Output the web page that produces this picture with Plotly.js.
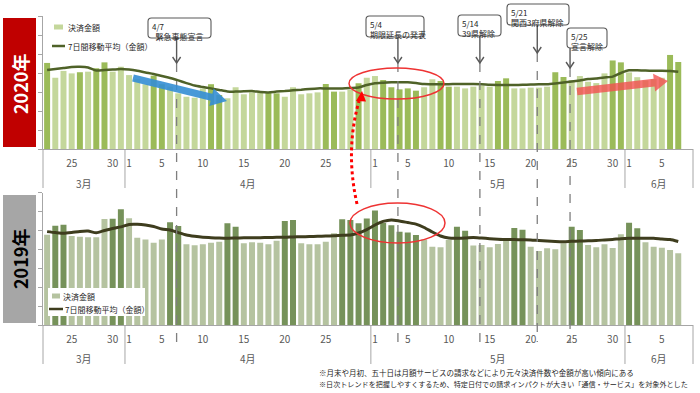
<!DOCTYPE html>
<html>
<head>
<meta charset="utf-8">
<script src="https://cdn.plot.ly/plotly-3.0.1.min.js"></script>
<style>
  html, body { margin: 0; padding: 0; background: #fff; }
  #chart { width: 700px; height: 393px; }
</style>
</head>
<body>
<div id="chart"></div>
<script>
// ---------- data ----------
const dates = [
  '3/22','3/23','3/24','3/25','3/26','3/27','3/28','3/29','3/30','3/31',
  '4/1','4/2','4/3','4/4','4/5','4/6','4/7','4/8','4/9','4/10',
  '4/11','4/12','4/13','4/14','4/15','4/16','4/17','4/18','4/19','4/20',
  '4/21','4/22','4/23','4/24','4/25','4/26','4/27','4/28','4/29','4/30',
  '5/1','5/2','5/3','5/4','5/5','5/6','5/7','5/8','5/9','5/10',
  '5/11','5/12','5/13','5/14','5/15','5/16','5/17','5/18','5/19','5/20',
  '5/21','5/22','5/23','5/24','5/25','5/26','5/27','5/28','5/29','5/30',
  '5/31','6/1','6/2','6/3','6/4','6/5','6/6','6/7'
];

// 2020 daily settlement amount (index units) and 7-day moving average
const amount2020 = [
  45.3,37.5,41.1,39.8,40.4,40.7,42.5,45.6,40.7,43.3,
  38.9,36.8,34.1,38.6,34.1,32.8,29.3,27.5,27.0,31.9,
  34.1,28.4,26.7,32.5,28.8,29.8,29.8,29.8,29.3,27.5,
  32.5,28.8,29.3,29.8,34.2,30.2,30.2,31.1,34.6,37.5,
  38.4,36.3,32.5,31.4,31.9,30.7,32.5,36.7,35.8,32.8,
  32.8,31.9,32.8,33.3,32.8,35.8,37.2,31.9,31.9,32.3,
  32.3,32.8,40.4,37.9,36.3,38.4,35.4,34.7,39.8,46.6,
  45.6,40.3,37.8,36.1,36.8,37.5,49.5,45.8
];
const ma2020 = [
  41.6,42.1,42.6,43.2,43.3,42.9,41.3,41.6,41.8,42.1,
  41.8,41.2,40.3,39.5,38.4,37.4,36.1,34.7,33.4,32.6,
  31.9,31.1,30.3,30.2,30.4,30.5,30.0,29.8,30.2,30.5,
  30.9,31.2,31.6,31.9,31.9,31.9,31.9,32.1,32.4,33.7,
  34.6,34.9,35.1,35.1,35.1,34.7,34.2,34.1,34.1,34.1,
  34.2,34.2,34.2,34.1,33.8,33.7,33.7,33.7,33.8,33.9,
  34.1,34.1,34.5,35.0,35.5,36.1,36.8,37.1,37.6,38.1,
  40.0,41.4,41.4,41.3,41.2,41.2,41.1,40.7
];
// 1 = weekend / holiday (darker bar)
const holiday2020 = [
  1,0,0,0,1,0,1,1,0,0,
  0,0,0,1,1,0,0,0,0,0,
  1,1,0,0,0,0,0,1,1,0,
  0,0,0,0,1,1,0,0,1,0,
  0,1,1,1,1,1,0,0,1,1,
  0,0,0,0,0,1,1,0,0,0,
  0,0,1,1,0,0,0,0,0,1,
  1,0,0,0,0,0,1,1
];

// 2019 same calendar dates
const amount2019 = [
  47.8,52.5,53.1,47.1,46.7,46.4,46.4,56.1,56.2,61.2,
  56.5,46.2,45.3,43.5,45.3,54.3,52.4,42.7,42.2,42.7,
  43.5,44.1,53.8,52.0,43.2,43.8,43.5,42.7,44.6,55.0,
  55.6,43.2,42.7,42.7,44.1,48.5,55.9,55.6,53.8,56.3,
  60.6,54.0,52.8,49.4,49.0,47.6,45.3,41.4,41.1,45.0,
  52.0,49.9,42.0,42.3,41.1,42.9,44.4,51.3,50.4,41.4,
  39.2,40.6,40.1,43.2,52.0,50.3,42.3,41.1,42.7,40.7,
  48.0,54.1,51.2,43.8,41.4,40.9,39.7,37.9
];
const ma2019 = [
  49.4,48.9,48.5,48.9,49.5,49.7,48.8,50.0,51.1,51.9,
  53.2,53.3,52.9,52.1,50.8,50.3,48.9,47.6,46.9,46.4,
  46.2,46.0,45.9,46.0,46.1,46.2,46.2,46.3,46.4,46.4,
  46.6,46.7,46.8,46.9,47.1,47.2,47.5,47.6,48.7,50.5,
  52.9,54.8,55.6,55.0,54.2,53.4,51.6,49.2,47.1,46.0,
  45.9,46.0,46.3,46.0,45.7,45.4,45.2,45.2,45.1,45.0,
  44.7,44.4,44.2,44.1,44.3,44.4,44.6,44.7,45.0,45.3,
  45.7,45.9,45.9,45.9,45.9,45.5,45.2,44.2
];
const holiday2019 = [
  0,1,1,0,0,0,0,0,1,1,
  0,0,0,0,0,1,1,0,0,0,
  0,0,1,1,0,0,0,0,0,1,
  1,0,0,0,0,0,1,1,1,1,
  1,1,1,1,1,1,0,0,0,0,
  1,1,0,0,0,0,0,1,1,0,
  0,0,0,0,1,1,0,0,0,0,
  0,1,1,0,0,0,0,0
];

const tickDates = ['3/25','3/30','4/1','4/5','4/10','4/15','4/20','4/25','5/1','5/5','5/10','5/15','5/20','5/25','5/30','6/1','6/5'];
const tickText  = ['25','30','1','5','10','15','20','25','1','5','10','15','20','25','30','1','5'];
const monthNames = ['3月','4月','5月','6月'];
const monthStart = ['3/22','4/1','5/1','6/1'];

const seriesNames = ['決済金額', '7日間移動平均（金額）'];
const yearLabels = ['2020年', '2019年'];

const events = [
  {date:'4/7',  text:'4/7<br>&nbsp;&nbsp;緊急事態宣言', box:[148,18,211,38], tip:63},
  {date:'5/4',  text:'5/4<br>期限延長の発表',          box:[366,16,424,37], tip:63},
  {date:'5/14', text:'5/14<br>39県解除',               box:[458,15,501,36], tip:63},
  {date:'5/21', text:'5/21<br>関西3府県解除',          box:[507,4,569,25],  tip:53},
  {date:'5/25', text:'5/25<br>宣言解除',               box:[567,28,607,48], tip:68}
];

const notes = [
  '※月末や月初、五十日は月額サービスの請求などにより元々決済件数や金額が高い傾向にある',
  '※日次トレンドを把握しやすくするため、特定日付での請求インパクトが大きい「通信・サービス」を対象外とした'
];

// ---------- geometry helpers ----------
const W = 700, H = 393;
const px = x => x / W;
const py = y => 1 - y / H;
const PLOT_L = 43, PLOT_R = 693;
const X_RANGE = [-0.5, 78.8];
const catPx = i => PLOT_L + (i - X_RANGE[0]) / (X_RANGE[1] - X_RANGE[0]) * (PLOT_R - PLOT_L);
const P = (x, y) => px(x).toFixed(5) + ',' + py(y).toFixed(5);
function rrect(x0, y0, x1, y1, r) {
  return `M${P(x0 + r, y0)} L${P(x1 - r, y0)} Q${P(x1, y0)} ${P(x1, y0 + r)} L${P(x1, y1 - r)} Q${P(x1, y1)} ${P(x1 - r, y1)} L${P(x0 + r, y1)} Q${P(x0, y1)} ${P(x0, y1 - r)} L${P(x0, y0 + r)} Q${P(x0, y0)} ${P(x0 + r, y0)} Z`;
}
function arrowPath(x0, y0, x1, y1, bw, hw, hl) {
  const dx = x1 - x0, dy = y1 - y0, L = Math.hypot(dx, dy);
  const ux = dx / L, uy = dy / L, nx = -uy, ny = ux;
  const bx = x1 - ux * hl, by = y1 - uy * hl;
  const pts = [
    [x0 + nx * bw, y0 + ny * bw], [bx + nx * bw, by + ny * bw], [bx + nx * hw, by + ny * hw],
    [x1, y1], [bx - nx * hw, by - ny * hw], [bx - nx * bw, by - ny * bw], [x0 - nx * bw, y0 - ny * bw]
  ];
  return 'M' + pts.map(p => P(p[0], p[1])).join(' L') + ' Z';
}

// ---------- colors ----------
const C20L = '#c4d79b', C20D = '#9bbb59', C20LINE = '#4f6228';
const C19L = '#b5c3a0', C19D = '#76925a', C19LINE = '#3e3d1e';
const GRID = '#a6a6a6';
const TXT = '#595959';
const FONT = '"Noto Sans CJK JP", "Noto Sans", sans-serif';

// ---------- traces ----------
const traces = [
  {type:'bar', x:dates, y:amount2020, name:seriesNames[0], xaxis:'x', yaxis:'y',
   marker:{color: holiday2020.map(h => h ? C20D : C20L)}, hoverinfo:'skip'},
  {type:'scatter', mode:'lines', x:dates, y:ma2020, name:seriesNames[1], xaxis:'x', yaxis:'y',
   line:{color:C20LINE, width:2.5, shape:'spline', smoothing:0.6}, hoverinfo:'skip'},
  {type:'bar', x:dates, y:amount2019, name:seriesNames[0], xaxis:'x2', yaxis:'y2',
   marker:{color: holiday2019.map(h => h ? C19D : C19L)}, hoverinfo:'skip'},
  {type:'scatter', mode:'lines', x:dates, y:ma2019, name:seriesNames[1], xaxis:'x2', yaxis:'y2',
   line:{color:C19LINE, width:3, shape:'spline', smoothing:0.6}, hoverinfo:'skip'}
];

// ---------- axes ----------
function xAxis(anchor) {
  return {
    domain:[px(PLOT_L), px(PLOT_R)], anchor:anchor, type:'category',
    categoryorder:'array', categoryarray:dates, range:X_RANGE,
    showline:true, linecolor:GRID, linewidth:1, ticks:'outside', ticklen:5, tickcolor:'rgba(0,0,0,0)',
    tickvals:tickDates, ticktext:tickText, tickfont:{size:10, color:TXT, family:FONT},
    showgrid:false, zeroline:false, fixedrange:true
  };
}
function yAxis(anchor, top, bottom) {
  return {
    domain:[py(bottom), py(top)], anchor:anchor, range:[0, 70], dtick:10,
    showline:true, linecolor:GRID, linewidth:1, ticks:'outside', ticklen:4, tickcolor:GRID,
    showticklabels:false, showgrid:false, zeroline:false, fixedrange:true
  };
}

// ---------- shapes ----------
const shapes = [];
const annotations = [];
const line = (x0, y0, x1, y1, color, width, dash, xref) => ({
  type:'line', xref:xref || 'paper', yref:'paper',
  x0:x0, x1:x1, y0:py(y0), y1:py(y1), line:{color:color, width:width, dash:dash || 'solid'}
});
const label = (x, y, text, size, color, anchor, extra) => Object.assign({
  xref:'paper', yref:'paper', x:px(x), y:py(y), text:text, showarrow:false,
  xanchor:anchor || 'left', yanchor:'middle', font:{size:size, color:color, family:FONT}
}, extra || {});

// category boxes under each chart
[[149, 188, 183], [325, 364, 358]].forEach(([base, bot, monY]) => {
  shapes.push(line(px(PLOT_L), base, px(PLOT_L), bot, GRID, 1));
  shapes.push(line(px(PLOT_R), base, px(PLOT_R), bot, GRID, 1));
  monthStart.forEach((d, m) => {
    const s = dates.indexOf(d);
    if (m > 0) shapes.push(line(s - 0.5, base, s - 0.5, bot, GRID, 1, 'solid', 'x'));
    const e = m < monthStart.length - 1 ? dates.indexOf(monthStart[m + 1]) - 0.5 : X_RANGE[1];
    const c = ((s - 0.5) + e) / 2;
    annotations.push({xref:'x', yref:'paper', x:c, y:py(monY), text:monthNames[m], showarrow:false,
      font:{size:10, color:TXT, family:FONT}, xanchor:'center', yanchor:'middle'});
  });
});

// legends (drawn manually to match the original layout)
// top (2020)
shapes.push({type:'rect', xref:'paper', yref:'paper', x0:px(54), x1:px(63), y0:py(29.5), y1:py(24.5),
  fillcolor:C20L, line:{width:0}});
annotations.push(label(66, 27, seriesNames[0], 8, '#262626'));
shapes.push(line(px(52), 46, px(65), 46, C20LINE, 2.5));
annotations.push(label(66, 46, seriesNames[1], 8, '#262626'));
// bottom (2019)
shapes.push({type:'rect', xref:'paper', yref:'paper', x0:px(48), x1:px(145), y0:py(316), y1:py(288),
  fillcolor:'#ffffff', line:{width:0}});
shapes.push({type:'rect', xref:'paper', yref:'paper', x0:px(52), x1:px(60), y0:py(298.5), y1:py(293.5),
  fillcolor:C19L, line:{width:0}});
annotations.push(label(61, 296, seriesNames[0], 8, '#262626'));
shapes.push(line(px(49), 309, px(63), 309, C19LINE, 2.5));
annotations.push(label(63, 309, seriesNames[1], 8, '#262626'));

// event markers
events.forEach(ev => {
  const idx = dates.indexOf(ev.date) - 0.2;
  const xp = catPx(idx);
  const [bx0, by0, bx1, by1] = ev.box;
  shapes.push(line(idx, ev.tip, idx, 342, '#7f7f7f', 1.3, 'dash', 'x'));
  shapes.push(line(px(xp), by1, px(xp), ev.tip, '#595959', 1.4));
  shapes.push({type:'path', xref:'paper', yref:'paper',
    path:`M${P(xp - 4, ev.tip - 6)} L${P(xp, ev.tip)} L${P(xp + 4, ev.tip - 6)}`,
    line:{color:'#595959', width:1.4}});
  shapes.push({type:'path', xref:'paper', yref:'paper', path:rrect(bx0, by0, bx1, by1, 3.5),
    fillcolor:'#ffffff', line:{color:'#595959', width:1.1}});
  annotations.push({xref:'paper', yref:'paper', x:px(bx0 + 1.5), y:py(by0 + 1), text:ev.text,
    showarrow:false, xanchor:'left', yanchor:'top', align:'left',
    font:{size:8, color:'#262626', family:FONT}});
});

// red ellipses
shapes.push({type:'circle', xref:'paper', yref:'paper', x0:px(349), x1:px(444), y0:py(99), y1:py(68),
  line:{color:'#ee3333', width:1.5}});
shapes.push({type:'circle', xref:'paper', yref:'paper', x0:px(350), x1:px(445), y0:py(243), y1:py(203),
  line:{color:'#ee3333', width:1.5}});

// red dotted connector
shapes.push({type:'path', xref:'paper', yref:'paper',
  path:`M${P(357, 204)} Q${P(345, 150)} ${P(359, 101)}`,
  line:{color:'#ff0000', width:3, dash:'dot'}});
shapes.push({type:'path', xref:'paper', yref:'paper',
  path:`M${P(362, 91)} L${P(356, 101)} L${P(366, 101.5)} Z`,
  fillcolor:'#ff0000', line:{width:0}});

// blue & red trend arrows
shapes.push({type:'path', xref:'paper', yref:'paper', path:arrowPath(133, 78, 227, 101, 3.6, 9, 16),
  fillcolor:'rgba(52,142,212,0.9)', line:{width:0}});
shapes.push({type:'path', xref:'paper', yref:'paper', path:arrowPath(577, 91.5, 668, 81, 3.8, 9, 14),
  fillcolor:'rgba(244,78,78,0.78)', line:{width:0}});

// year badges
shapes.push({type:'rect', xref:'paper', yref:'paper', x0:px(3), x1:px(36), y0:py(147), y1:py(18),
  fillcolor:'#c00000', line:{width:0}, layer:'below'});
shapes.push({type:'rect', xref:'paper', yref:'paper', x0:px(3), x1:px(36), y0:py(323), y1:py(195),
  fillcolor:'#a6a6a6', line:{width:0}, layer:'below'});
annotations.push(label(20, 84, '<b>' + yearLabels[0] + '</b>', 18, '#ffffff', 'center', {textangle:-90}));
annotations.push(label(20, 259, '<b>' + yearLabels[1] + '</b>', 18, '#000000', 'center', {textangle:-90}));

// footnotes
annotations.push(label(317, 372, notes[0], 7.5, '#262626'));
annotations.push(label(317, 383.5, notes[1], 7.1, '#262626'));

const layout = {
  width:W, height:H, margin:{l:0, r:0, t:0, b:0},
  paper_bgcolor:'#ffffff', plot_bgcolor:'rgba(0,0,0,0)',
  bargap:0.27, showlegend:false,
  xaxis:xAxis('y'), yaxis:yAxis('x', 16, 149),
  xaxis2:xAxis('y2'), yaxis2:yAxis('x2', 192.7, 325),
  shapes:shapes, annotations:annotations
};

Plotly.newPlot('chart', traces, layout, {staticPlot:true, displayModeBar:false});
</script>
</body>
</html>
